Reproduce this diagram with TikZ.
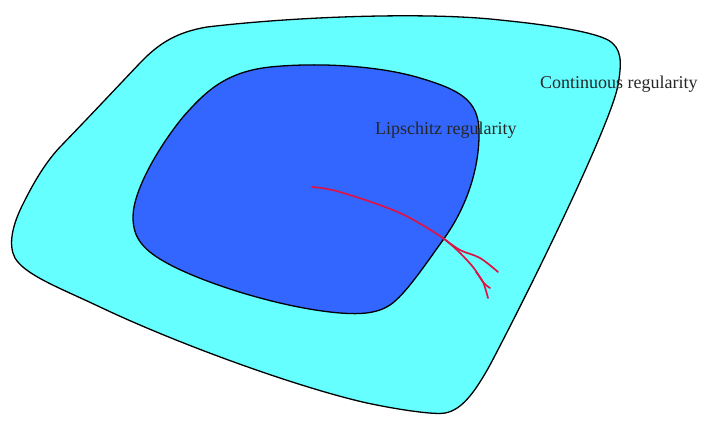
\documentclass[tikz,border=0pt]{standalone}
\usepackage{fontspec}
\setmainfont{Liberation Serif}
\definecolor{outerfill}{RGB}{102,255,255}
\definecolor{innerfill}{RGB}{51,102,255}
\definecolor{pathred}{RGB}{220,20,70}
\tikzset{
  region/.style={draw=black, line width=1.3pt, line join=round},
  label/.style={font=\fontsize{18}{21}\selectfont, anchor=west, inner sep=0pt, text=black!85},
  redpath/.style={draw=pathred, line width=1.7pt, line cap=round, line join=round},
}
\begin{document}
\begin{tikzpicture}[x=1pt, y=-1pt]
\useasboundingbox (0,0) rectangle (701,421);
% outer region
\path[region, fill=outerfill] (60,147)
  .. controls (90,116) and (120,84) .. (140,63)
  .. controls (160,42) and (178,32) .. (207,27)
  .. controls (300,16) and (430,12) .. (500,20)
  .. controls (560,26) and (595,33) .. (608,40)
  .. controls (622,48) and (622,62) .. (618,85)
  .. controls (612,120) and (540,270) .. (490,365)
  .. controls (475,392) and (462,410) .. (445,413)
  .. controls (435,415) and (400,410) .. (367,403)
  .. controls (300,388) and (180,345) .. (100,307)
  .. controls (60,288) and (25,275) .. (15,258)
  .. controls (8,245) and (12,225) .. (24,202)
  .. controls (32,186) and (44,164) .. (60,147) -- cycle;
% inner region
\path[region, fill=innerfill] (133,217)
  .. controls (133,190) and (160,145) .. (183,117)
  .. controls (205,92) and (225,72) .. (270,67)
  .. controls (320,62) and (380,66) .. (420,78)
  .. controls (460,90) and (478,100) .. (479,130)
  .. controls (480,170) and (465,210) .. (443,240)
  .. controls (425,265) and (405,295) .. (390,305)
  .. controls (375,315) and (355,314) .. (340,313)
  .. controls (280,308) and (200,282) .. (165,262)
  .. controls (140,248) and (133,235) .. (133,217) -- cycle;
% red path
\coordinate (r0) at (312,187);
\coordinate (rs) at (443,238);
\coordinate (rb) at (483,282);
\coordinate (t1) at (498,272);
\coordinate (t2) at (490,288);
\coordinate (t3) at (488,298);
\draw[redpath] plot[smooth, tension=0.6] coordinates {(r0) (340,192) (400,213) (rs)};
\draw[redpath] plot[smooth, tension=0.6] coordinates {(rs) (460,250) (480,258) (t1)};
\draw[redpath] plot[smooth, tension=0.6] coordinates {(rs) (457,250) (473,267) (rb) (t2)};
\draw[redpath] plot[smooth, tension=0.6] coordinates {(476,272) (rb) (t3)};
% labels
\node[label] (cont) at (540,84) {Continuous regularity};
\node[label] (lip) at (375,130) {Lipschitz regularity};
\end{tikzpicture}
\end{document}
